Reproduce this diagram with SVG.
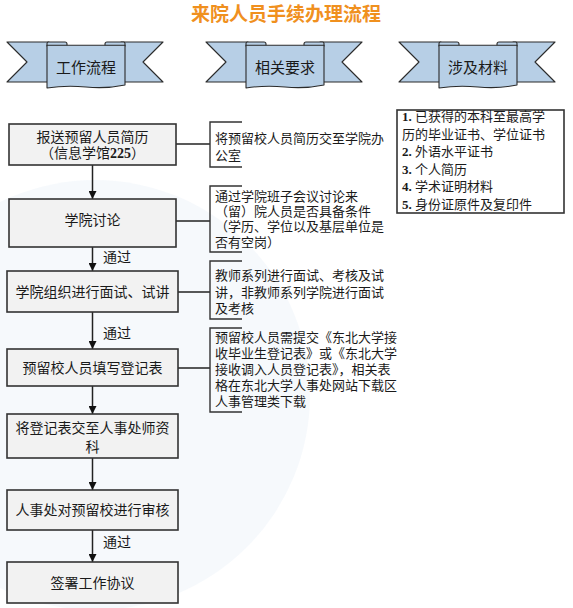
<svg xmlns="http://www.w3.org/2000/svg" xmlns:xlink="http://www.w3.org/1999/xlink" width="573" height="608" viewBox="0 0 573 608">
  <style>
    .title { font-family: "Noto Sans CJK SC", sans-serif; font-weight: bold; font-size: 19px; fill: #f0901e; }
    .rib { fill: #b7cfe6; stroke: #2b2b2b; stroke-width: 1.1; stroke-linejoin: round; }
    .ribtxt { font-family: "Noto Sans CJK SC", sans-serif; font-size: 15px; fill: #1a1a1a; text-anchor: middle; }
    .box { fill: #f2f2f2; stroke: #333; stroke-width: 1.6; }
    .btxt { font-family: "Liberation Serif", "Noto Sans CJK SC", serif; font-size: 14px; fill: #1a1a1a; text-anchor: middle; }
    .ntxt { font-family: "Liberation Serif", "Noto Sans CJK SC", serif; font-size: 13px; fill: #1a1a1a; }
    .brk { fill: none; stroke: #333; stroke-width: 1.4; }
    .conn { fill: none; stroke: #222; stroke-width: 1.5; }
    .mat { fill: #ffffff; stroke: #333; stroke-width: 1.6; }
    .lbl { font-family: "Liberation Serif", "Noto Sans CJK SC", serif; font-size: 14px; fill: #1a1a1a; }
    .b { font-weight: bold; }
  </style>
  <defs>
    <marker id="arrow" viewBox="0 0 8 8" refX="8" refY="4" markerWidth="8" markerHeight="8" markerUnits="userSpaceOnUse" orient="auto">
      <path d="M0,0 L8,4 L0,8 Z" fill="#111"/>
    </marker>
    <g id="ribbon">
      <polygon class="rib" points="0,0 42,0 42,40 0,40 20,20"/>
      <polygon class="rib" points="156,0 114,0 114,40 156,40 136,20"/>
      <path class="rib" d="M40,4 L40,1.5 Q40,0 41.5,0 L58,0 Q60,0 60,2 L60,4 Z"/>
      <path class="rib" d="M98,4 L98,2 Q98,0 100,0 L116.5,0 Q118,0 118,1.5 L118,4 Z"/>
      <path class="rib" d="M40,3.3 L118,3.3 L118,43 Q99,47 79,45 Q59,43 40,46 Z"/>
    </g>
  </defs>

  <!-- faint background globe -->
  <circle cx="95" cy="395" r="215" fill="#eef4fa" opacity="0.55"/>

  <text class="title" x="286" y="20.5" text-anchor="middle">来院人员手续办理流程</text>

  <g id="header-flow">
    <use xlink:href="#ribbon" href="#ribbon" transform="translate(7,42)"/>
    <text class="ribtxt" x="86" y="73">工作流程</text>
  </g>
  <g id="header-req">
    <use xlink:href="#ribbon" href="#ribbon" transform="translate(206,42)"/>
    <text class="ribtxt" x="285" y="73">相关要求</text>
  </g>
  <g id="header-mat">
    <use xlink:href="#ribbon" href="#ribbon" transform="translate(399,42)"/>
    <text class="ribtxt" x="478" y="73">涉及材料</text>
  </g>

  <g id="connectors">
    <line class="conn" x1="92.5" y1="165" x2="92.5" y2="199" marker-end="url(#arrow)"/>
    <line class="conn" x1="92.5" y1="247" x2="92.5" y2="271" marker-end="url(#arrow)"/>
    <line class="conn" x1="92.5" y1="312" x2="92.5" y2="349" marker-end="url(#arrow)"/>
    <line class="conn" x1="92.5" y1="386" x2="92.5" y2="414" marker-end="url(#arrow)"/>
    <line class="conn" x1="92.5" y1="458" x2="92.5" y2="490" marker-end="url(#arrow)"/>
    <line class="conn" x1="92.5" y1="530" x2="92.5" y2="562" marker-end="url(#arrow)"/>
    <line class="conn" x1="176" y1="144" x2="210" y2="144"/>
    <line class="conn" x1="176" y1="221" x2="210" y2="221"/>
    <line class="conn" x1="178" y1="292" x2="210" y2="292"/>
    <line class="conn" x1="178" y1="368" x2="210" y2="368"/>
    <text class="lbl" x="103" y="262">通过</text>
    <text class="lbl" x="103" y="338">通过</text>
    <text class="lbl" x="103" y="547">通过</text>
  </g>

  <g id="step1">
    <rect class="box" x="9" y="124" width="167" height="41"/>
    <text class="btxt" x="92.5" y="142">报送预留人员简历</text>
    <text class="btxt" x="92.5" y="158">（信息学馆<tspan class="b">225</tspan>）</text>
  </g>
  <g id="step2">
    <rect class="box" x="9" y="199" width="167" height="48"/>
    <text class="btxt" x="92.5" y="225">学院讨论</text>
  </g>
  <g id="step3">
    <rect class="box" x="7" y="271" width="171" height="41"/>
    <text class="btxt" x="92.5" y="297">学院组织进行面试、试讲</text>
  </g>
  <g id="step4">
    <rect class="box" x="7" y="349" width="171" height="37"/>
    <text class="btxt" x="92.5" y="373">预留校人员填写登记表</text>
  </g>
  <g id="step5">
    <rect class="box" x="7" y="414" width="171" height="44"/>
    <text class="btxt" x="92.5" y="433">将登记表交至人事处师资</text>
    <text class="btxt" x="92.5" y="452">科</text>
  </g>
  <g id="step6">
    <rect class="box" x="7" y="490" width="171" height="40"/>
    <text class="btxt" x="92.5" y="515">人事处对预留校进行审核</text>
  </g>
  <g id="step7">
    <rect class="box" x="7" y="562" width="171" height="41"/>
    <text class="btxt" x="92.5" y="588">签署工作协议</text>
  </g>

  <g id="note1">
    <path class="brk" d="M242,122 L210,122 L210,167 L242,167"/>
    <text class="ntxt" x="215" y="143">将预留校人员简历交至学院办</text>
    <text class="ntxt" x="215" y="160">公室</text>
  </g>
  <g id="note2">
    <path class="brk" d="M242,186 L210,186 L210,252 L242,252"/>
    <text class="ntxt" x="215" y="201">通过学院班子会议讨论来</text>
    <text class="ntxt" x="215" y="216">（留）院人员是否具备条件</text>
    <text class="ntxt" x="215" y="231">（学历、学位以及基层单位是</text>
    <text class="ntxt" x="215" y="247">否有空岗）</text>
  </g>
  <g id="note3">
    <path class="brk" d="M242,261 L210,261 L210,319 L242,319"/>
    <text class="ntxt" x="215" y="280">教师系列进行面试、考核及试</text>
    <text class="ntxt" x="215" y="297">讲，非教师系列学院进行面试</text>
    <text class="ntxt" x="215" y="313">及考核</text>
  </g>
  <g id="note4">
    <path class="brk" d="M242,328 L210,328 L210,412 L242,412"/>
    <text class="ntxt" x="215" y="342">预留校人员需提交《东北大学接</text>
    <text class="ntxt" x="215" y="358">收毕业生登记表》或《东北大学</text>
    <text class="ntxt" x="215" y="374">接收调入人员登记表》，相关表</text>
    <text class="ntxt" x="215" y="390">格在东北大学人事处网站下载区</text>
    <text class="ntxt" x="215" y="406">人事管理类下载</text>
  </g>

  <g id="materials">
    <rect class="mat" x="397" y="110" width="167" height="103"/>
    <text class="ntxt" x="402" y="121"><tspan class="b">1.</tspan> 已获得的本科至最高学</text>
    <text class="ntxt" x="402" y="139">历的毕业证书、学位证书</text>
    <text class="ntxt" x="402" y="156"><tspan class="b">2.</tspan> 外语水平证书</text>
    <text class="ntxt" x="402" y="174"><tspan class="b">3.</tspan> 个人简历</text>
    <text class="ntxt" x="402" y="191"><tspan class="b">4.</tspan> 学术证明材料</text>
    <text class="ntxt" x="402" y="209"><tspan class="b">5.</tspan> 身份证原件及复印件</text>
  </g>
</svg>
